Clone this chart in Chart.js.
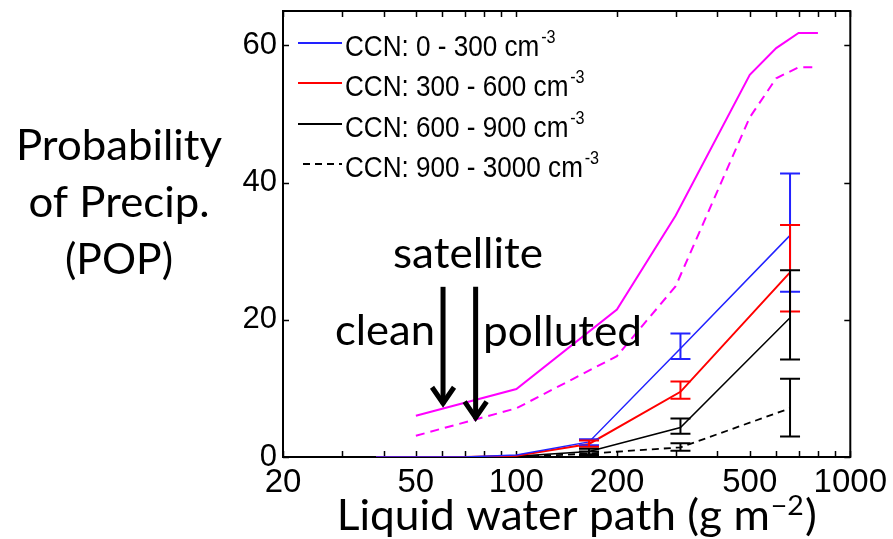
<!DOCTYPE html>
<html>
<head>
<meta charset="utf-8">
<title>Probability of Precipitation vs LWP</title>
<script src="https://cdn.jsdelivr.net/npm/chart.js"></script>
<style>
  html, body { margin: 0; padding: 0; background: #fff; }
</style>
</head>
<body>
<canvas id="popChart" width="893" height="539"></canvas>

<script>
// LWP bin centres (g m-2) for the CCN-sorted observations
const lwpBins = [38, 70, 100, 165, 310, 660];
const popCcn0_300 = [0, 0, 0.3, 2.2, 15.8, 32.3];
const popCcn300_600 = [0, 0, 0.2, 1.9, 9.5, 26.9];
const popCcn600_900 = [0, 0, 0.1, 0.8, 4.3, 20.3];
const popCcn900_3000 = [0, 0, 0, 0.5, 1.4, 7.1];

// error bar ranges (null = no bar)
const errLo0_300 = [null, null, null, 1.7, 14.3, 24.1];
const errHi0_300 = [null, null, null, 2.6, 18.0, 41.3];
const errLo300_600 = [null, null, null, 1.5, 8.5, 21.2];
const errHi300_600 = [null, null, null, 2.4, 11.0, 33.8];
const errLo600_900 = [null, null, null, 0.4, 3.4, 14.2];
const errHi600_900 = [null, null, null, 1.2, 5.6, 27.2];
const errLo900_3000 = [null, null, null, 0.2, 0.9, 3.0];
const errHi900_3000 = [null, null, null, 0.8, 2.0, 11.4];

// satellite POP for clean / polluted scenes
const satLwp = [50, 100, 200, 300, 500, 600, 700, 800];
const satClean = [6.0, 9.9, 21.5, 35.2, 55.7, 59.6, 61.8, 61.8];
const satPolluted = [3.1, 7.1, 14.7, 24.9, 49.5, 55.2, 56.8, 56.8];

const ccnLabels = ['CCN: 0 - 300 cm', 'CCN: 300 - 600 cm', 'CCN: 600 - 900 cm', 'CCN: 900 - 3000 cm'];
const xTickValues = [20, 30, 40, 50, 60, 70, 80, 90, 100, 200, 300, 400, 500, 600, 700, 800, 900, 1000];
const xTickLabels = [20, 50, 100, 200, 500, 1000];
const yTickValues = [0, 20, 40, 60];

// arrow positions: [lwp, top, tip]
const arrowClean = [60.3, 24.8, 7.4];
const arrowPolluted = [75.5, 24.8, 5.3];

const pts = (xs, ys) => xs.map((x, i) => ({ x: x, y: ys[i] }));

const TEXT_FONT = 'Lato, "Open Sans", sans-serif';
const TICK_FONT = '"Liberation Sans", Arial, sans-serif';

// draw text squeezed/stretched to a given width
function fitText(ctx, str, x, y, size, width, align) {
  ctx.save();
  ctx.font = size + 'px ' + TEXT_FONT;
  const w = ctx.measureText(str).width;
  const sx = width ? width / w : 1;
  ctx.translate(x, y);
  ctx.scale(sx, 1);
  ctx.textAlign = align || 'left';
  ctx.textBaseline = 'alphabetic';
  ctx.fillStyle = '#000';
  ctx.fillText(str, 0, 0);
  ctx.restore();
}

function drawArrow(ctx, x, yTop, yTip) {
  ctx.save();
  ctx.strokeStyle = '#000';
  ctx.lineWidth = 5;
  ctx.lineCap = 'butt';
  ctx.lineJoin = 'miter';
  ctx.beginPath();
  ctx.moveTo(x, yTop);
  ctx.lineTo(x, yTip - 2);
  ctx.stroke();
  ctx.beginPath();
  ctx.moveTo(x - 11, yTip - 19);
  ctx.lineTo(x, yTip - 3);
  ctx.lineTo(x + 11, yTip - 19);
  ctx.stroke();
  ctx.restore();
}

const extras = {
  id: 'extras',
  beforeDatasetsDraw(chart) {
    // frame and inward ticks, under the data lines
    const ctx = chart.ctx;
    const xs = chart.scales.x, ys = chart.scales.y;
    const a = chart.chartArea;
    ctx.save();
    ctx.strokeStyle = '#000';
    ctx.lineWidth = 2;
    ctx.strokeRect(a.left, a.top, a.right - a.left, a.bottom - a.top);
    ctx.lineWidth = 1.5;
    ctx.beginPath();
    xTickValues.forEach(v => {
      const px = Math.round(xs.getPixelForValue(v)) + 0.5;
      ctx.moveTo(px, a.bottom); ctx.lineTo(px, a.bottom - 6);
      ctx.moveTo(px, a.top); ctx.lineTo(px, a.top + 6);
    });
    yTickValues.forEach(v => {
      const py = Math.round(ys.getPixelForValue(v)) + 0.5;
      ctx.moveTo(a.left, py); ctx.lineTo(a.left + 6, py);
      ctx.moveTo(a.right, py); ctx.lineTo(a.right - 6, py);
    });
    ctx.stroke();
    ctx.restore();
  },
  afterDatasetsDraw(chart) {
    const ctx = chart.ctx;
    const xs = chart.scales.x, ys = chart.scales.y;

    // error bars
    const bars = [
      [errLo0_300, errHi0_300, '#2222ff'],
      [errLo300_600, errHi300_600, '#ff0000'],
      [errLo600_900, errHi600_900, '#000'],
      [errLo900_3000, errHi900_3000, '#000']
    ];
    bars.forEach(([lo, hi, col]) => {
      ctx.save();
      ctx.strokeStyle = col;
      ctx.lineWidth = 2;
      lwpBins.forEach((b, i) => {
        if (lo[i] === null) return;
        const px = xs.getPixelForValue(b);
        const y1 = ys.getPixelForValue(lo[i]);
        const y2 = ys.getPixelForValue(hi[i]);
        ctx.beginPath();
        ctx.moveTo(px, y1); ctx.lineTo(px, y2);
        ctx.moveTo(px - 10, y1); ctx.lineTo(px + 10, y1);
        ctx.moveTo(px - 10, y2); ctx.lineTo(px + 10, y2);
        ctx.stroke();
      });
      ctx.restore();
    });

    // legend for the CCN groups
    const rowY = [43, 83, 124, 164];
    for (let i = 0; i < 4; i++) {
      const ds = chart.data.datasets[i];
      ctx.save();
      ctx.strokeStyle = ds.borderColor;
      ctx.lineWidth = 2;
      ctx.setLineDash(ds.borderDash || []);
      ctx.beginPath();
      ctx.moveTo(i === 3 ? 303 : 298, rowY[i]);
      ctx.lineTo(342, rowY[i]);
      ctx.stroke();
      ctx.restore();

      ctx.save();
      ctx.font = '29px ' + TICK_FONT;
      ctx.fillStyle = '#000';
      ctx.translate(345, rowY[i] + 13);
      ctx.scale(0.9, 1);
      ctx.fillText(ccnLabels[i], 0, 0);
      const w = ctx.measureText(ccnLabels[i]).width;
      ctx.font = '18px ' + TICK_FONT;
      ctx.fillText('-3', w + 2, -13);
      ctx.restore();
    }

    // satellite arrows
    [arrowClean, arrowPolluted].forEach(([lwp, top, tip]) => {
      drawArrow(ctx, xs.getPixelForValue(lwp), ys.getPixelForValue(top), ys.getPixelForValue(tip));
    });
  },
  afterDraw(chart) {
    const ctx = chart.ctx;
    fitText(ctx, 'satellite', 468, 268, 42, 150, 'center');
    fitText(ctx, 'clean', 335, 345, 42, 100, 'left');
    fitText(ctx, 'polluted', 483, 346, 42, 159, 'left');

    fitText(ctx, 'Probability', 119, 160, 42, 206, 'center');
    fitText(ctx, 'of Precip.', 119, 217, 42, 181, 'center');
    fitText(ctx, '(POP)', 119, 274, 42, 108, 'center');

    // x axis title with superscript
    ctx.save();
    ctx.fillStyle = '#000';
    ctx.textBaseline = 'alphabetic';
    const mainFont = '42px ' + TEXT_FONT;
    const supFont = '27px ' + TEXT_FONT;
    ctx.font = mainFont;
    const p1 = 'Liquid water path (g m';
    const p3 = ')';
    const w1 = ctx.measureText(p1).width;
    const w3 = ctx.measureText(p3).width;
    ctx.font = supFont;
    const p2 = '\u22122';
    const w2 = ctx.measureText(p2).width;
    const total = w1 + w2 + 2 + w3;
    const sx = 480 / total;
    ctx.translate(336.7, 530);
    ctx.scale(sx, 1);
    ctx.font = mainFont;
    ctx.fillText(p1, 0, 0);
    ctx.font = supFont;
    ctx.fillText(p2, w1 + 1, -15);
    ctx.font = mainFont;
    ctx.fillText(p3, w1 + w2 + 2, 0);
    ctx.restore();
  }
};

const ctx = document.getElementById('popChart').getContext('2d');
const chart = new Chart(ctx, {
  type: 'line',
  data: {
    datasets: [
      { label: ccnLabels[0], data: pts(lwpBins, popCcn0_300), borderColor: '#2222ff', borderWidth: 1.5 },
      { label: ccnLabels[1], data: pts(lwpBins, popCcn300_600), borderColor: '#ff0000', borderWidth: 2 },
      { label: ccnLabels[2], data: pts(lwpBins, popCcn600_900), borderColor: '#000000', borderWidth: 1.5 },
      { label: ccnLabels[3], data: pts(lwpBins, popCcn900_3000), borderColor: '#000000', borderWidth: 1.8, borderDash: [7, 5] },
      { label: 'satellite clean', data: pts(satLwp, satClean), borderColor: '#ff00ff', borderWidth: 2 },
      { label: 'satellite polluted', data: pts(satLwp, satPolluted), borderColor: '#ff00ff', borderWidth: 2, borderDash: [9, 6] }
    ]
  },
  options: {
    responsive: false,
    animation: false,
    layout: { padding: { top: 11, right: 42, left: 0, bottom: 0 } },
    elements: { point: { radius: 0 }, line: { tension: 0 } },
    plugins: { legend: { display: false }, tooltip: { enabled: false } },
    scales: {
      x: {
        type: 'logarithmic',
        min: 20,
        max: 1000,
        grid: { display: false, drawTicks: false },
        border: { display: false },
        afterBuildTicks: s => { s.ticks = xTickValues.map(v => ({ value: v })); },
        afterFit: s => { s.height = 82; },
        ticks: {
          autoSkip: false,
          maxRotation: 0,
          padding: 6,
          color: '#000',
          font: { family: TICK_FONT, size: 33 },
          callback: v => xTickLabels.includes(v) ? String(v) : ''
        }
      },
      y: {
        min: 0,
        max: 65,
        grid: { display: false, drawTicks: false },
        border: { display: false },
        afterBuildTicks: s => { s.ticks = yTickValues.map(v => ({ value: v })); },
        afterFit: s => { s.width = 283; s.paddingTop = 0; s.paddingBottom = 0; },
        ticks: {
          padding: 6,
          color: '#000',
          font: { family: TICK_FONT, size: 31 }
        }
      }
    }
  },
  plugins: [extras]
});
</script>
</body>
</html>
